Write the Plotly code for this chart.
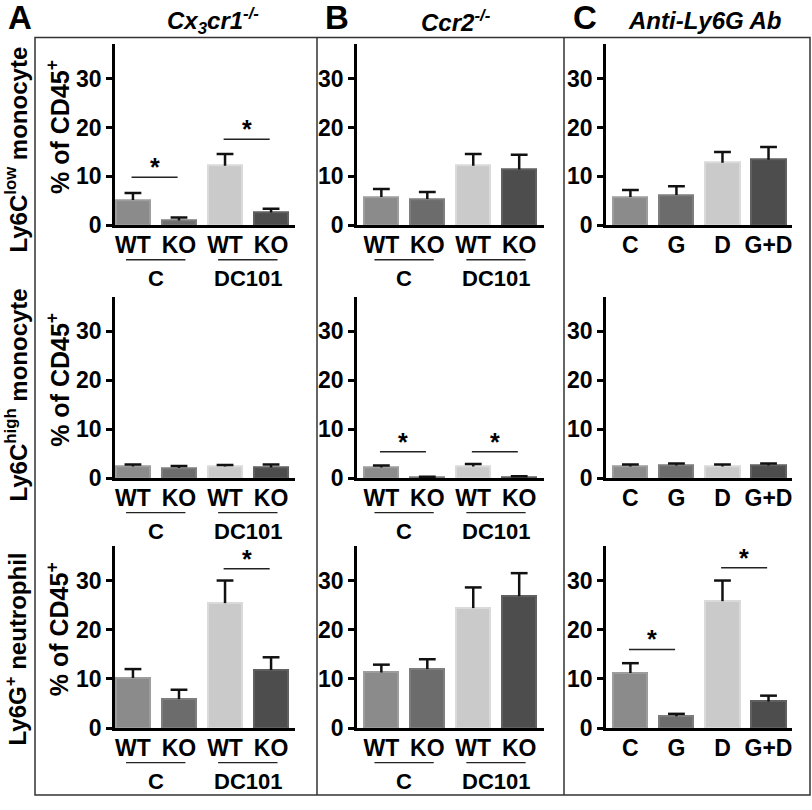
import plotly.graph_objects as go

# ---- data ----
row_labels = ["Ly6C<sup>low</sup> monocyte", "Ly6C<sup>high</sup> monocyte", "Ly6G<sup>+</sup> neutrophil"]
col_titles = ["<i>Cx<sub>3</sub>cr1<sup>-/-</sup></i>", "<i>Ccr2<sup>-/-</sup></i>", "<i>Anti-Ly6G Ab</i>"]
panel_letters = ["A", "B", "C"]

ko_ticks = ["WT", "KO", "WT", "KO"]
ab_ticks = ["C", "G", "D", "G+D"]
groups = ["C", "DC101"]
y_ticks = [0, 10, 20, 30]

# means / SEM, rows x columns
a_low_mean = [5.2, 1.0, 12.2, 2.6]
a_low_err = [1.4, 0.6, 2.4, 0.8]
b_low_mean = [5.8, 5.4, 12.2, 11.4]
b_low_err = [1.6, 1.4, 2.4, 3.0]
c_low_mean = [5.8, 6.2, 12.8, 13.4]
c_low_err = [1.4, 1.8, 2.2, 2.6]

a_high_mean = [2.4, 2.1, 2.4, 2.2]
a_high_err = [0.4, 0.4, 0.3, 0.6]
b_high_mean = [2.2, 0.2, 2.4, 0.3]
b_high_err = [0.4, 0.1, 0.5, 0.1]
c_high_mean = [2.4, 2.6, 2.4, 2.6]
c_high_err = [0.4, 0.4, 0.4, 0.4]

a_neu_mean = [10.2, 5.9, 25.4, 11.8]
a_neu_err = [1.8, 1.9, 4.6, 2.6]
b_neu_mean = [11.3, 12.0, 24.4, 26.8]
b_neu_err = [1.6, 2.0, 4.2, 4.7]
c_neu_mean = [11.2, 2.4, 25.8, 5.4]
c_neu_err = [2.0, 0.5, 4.2, 1.2]

# significance brackets: (bar i, bar j, bracket height)
a_low_sig = [(0, 1, 9.8), (2, 3, 17.6)]
b_high_sig = [(0, 1, 5.4), (2, 3, 5.4)]
a_neu_sig = [(2, 3, 32.4)]
c_neu_sig = [(0, 1, 16.0), (2, 3, 32.6)]

means = [[a_low_mean, b_low_mean, c_low_mean],
         [a_high_mean, b_high_mean, c_high_mean],
         [a_neu_mean, b_neu_mean, c_neu_mean]]
errs = [[a_low_err, b_low_err, c_low_err],
        [a_high_err, b_high_err, c_high_err],
        [a_neu_err, b_neu_err, c_neu_err]]
sigs = [[a_low_sig, [], []],
        [[], b_high_sig, []],
        [a_neu_sig, [], c_neu_sig]]

bar_colors = ["#8b8b8b", "#6c6c6c", "#cacaca", "#4d4d4d"]
bar_edges = ["#9d9d9d", "#7e7e7e", "#dadada", "#606060"]

W, H = 812, 810
FONT = "Liberation Sans, Arial, sans-serif"

# layout in pixels
col_x = [(115, 295), (357, 544), (606, 792)]
col_range = [(-0.39, 3.52), (-0.53, 3.54), (-0.53, 3.51)]
row_y = [(45, 229), (302, 486), (555, 740)]


def px(x):
    return x / W


def py(y):
    return 1 - y / H


def bold(size):
    return dict(family=FONT, size=size, color="black", weight="bold")


fig = go.Figure()
shapes = []
annotations = []

for r in range(3):
    for c in range(3):
        n = r * 3 + c + 1
        xs = "" if n == 1 else str(n)
        xa, ya = "x" + xs, "y" + xs
        ticks = ab_ticks if c == 2 else ko_ticks
        tops = [m + e for m, e in zip(means[r][c], errs[r][c])]

        fig.add_trace(go.Bar(
            x=[0, 1, 2, 3], y=means[r][c], width=0.74,
            marker=dict(color=bar_colors, line=dict(color=bar_edges, width=2)),
            error_y=dict(type="data", array=errs[r][c], arrayminus=[0] * 4,
                         symmetric=False, color="#111111", thickness=2.5, width=0),
            xaxis=xa, yaxis=ya, showlegend=False, hoverinfo="skip"
        ))
        # caps only at the top of the error bars
        fig.add_trace(go.Scatter(
            x=[0, 1, 2, 3], y=tops, mode="markers",
            marker=dict(symbol="line-ew", size=12, line=dict(color="#111111", width=2.5)),
            xaxis=xa, yaxis=ya, showlegend=False, hoverinfo="skip"
        ))

        fig.update_layout(**{
            "xaxis" + xs: dict(
                domain=[px(col_x[c][0]), px(col_x[c][1])], anchor=ya,
                range=list(col_range[c]), tickvals=[0, 1, 2, 3], ticktext=ticks,
                showline=True, linecolor="black", linewidth=3, ticks="",
                ticklabelstandoff=-3,
                showgrid=False, zeroline=False, fixedrange=True,
                tickfont=bold(23)),
            "yaxis" + xs: dict(
                domain=[py(row_y[r][1]), py(row_y[r][0])], anchor=xa,
                range=[0, 37], tickvals=y_ticks,
                showline=True, linecolor="black", linewidth=2.5,
                ticks="outside", ticklen=6, tickwidth=2.5, tickcolor="black",
                ticklabelstandoff=0,
                showgrid=False, zeroline=False, fixedrange=True,
                tickfont=bold(23)),
        })

        hpx = row_y[r][1] - row_y[r][0]
        # treatment group underlines and labels (two-factor panels)
        if c < 2:
            for g, name in enumerate(groups):
                x0 = 2 * g
                shapes.append(dict(type="line", xref=xa, yref=ya + " domain",
                                   x0=x0 - 0.15, x1=x0 + 1.14,
                                   y0=-35 / hpx, y1=-35 / hpx,
                                   line=dict(color="#222222", width=1.3)))
                annotations.append(dict(xref=xa, yref=ya + " domain",
                                        x=x0 + 0.5, y=-54 / hpx, text=name,
                                        showarrow=False, yanchor="middle",
                                        font=bold(22)))
        # significance brackets
        for i, j, yv in sigs[r][c]:
            shapes.append(dict(type="line", xref=xa, yref=ya,
                               x0=i - 0.03, x1=j - 0.03, y0=yv, y1=yv,
                               line=dict(color="#222222", width=1.5)))
            annotations.append(dict(xref=xa, yref=ya, x=(i + j) / 2 - 0.03, y=yv,
                                    text="*", showarrow=False, yanchor="bottom",
                                    yshift=-6, font=bold(25)))

# row labels and y-axis titles
row_label_y = [152, 402, 660]
for r in range(3):
    annotations.append(dict(xref="paper", yref="paper", x=px(16), y=py(row_label_y[r]),
                            text=row_labels[r], textangle=-90, showarrow=False,
                            xanchor="center", yanchor="middle", font=bold(24)))
    yc = (row_y[r][0] + row_y[r][1]) / 2 - 8
    annotations.append(dict(xref="paper", yref="paper", x=px(58), y=py(yc),
                            text="% of CD45<sup>+</sup>", textangle=-90, showarrow=False,
                            xanchor="center", yanchor="middle", font=bold(25)))

# column headings
letter_x = [20, 337, 585]
title_x = [213, 456, 704]
for c in range(3):
    annotations.append(dict(xref="paper", yref="paper", x=px(letter_x[c]), y=py(18),
                            text=panel_letters[c], showarrow=False,
                            xanchor="center", yanchor="middle", font=bold(33)))
    annotations.append(dict(xref="paper", yref="paper", x=px(title_x[c]), y=py(21),
                            text=col_titles[c], showarrow=False,
                            xanchor="center", yanchor="middle", font=bold(24)))

# outer frame and column dividers
shapes.append(dict(type="rect", xref="paper", yref="paper",
                   x0=px(35), x1=px(810), y0=py(808), y1=py(38),
                   line=dict(color="#333333", width=1.5)))
for xd in [317, 564]:
    shapes.append(dict(type="line", xref="paper", yref="paper",
                       x0=px(xd), x1=px(xd), y0=py(808), y1=py(38),
                       line=dict(color="#333333", width=1.5)))

fig.update_layout(
    width=W, height=H,
    margin=dict(l=0, r=0, t=0, b=0),
    paper_bgcolor="white", plot_bgcolor="white",
    shapes=shapes, annotations=annotations,
    bargap=0,
)

fig.write_html("out.html", config={"displayModeBar": False},
               post_script="document.body.style.margin='0';")
